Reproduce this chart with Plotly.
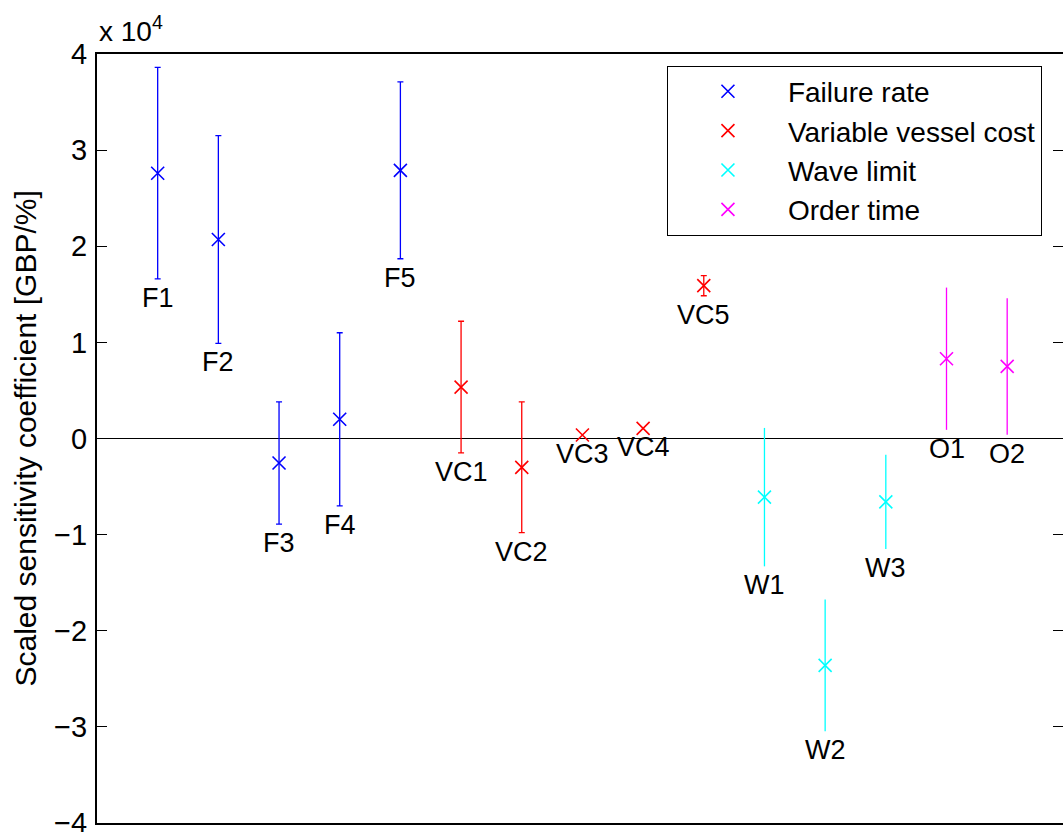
import plotly.graph_objects as go

# Scaled sensitivity coefficients [GBP/%] with their uncertainty half-widths
groups = ["Failure rate", "Variable vessel cost", "Wave limit", "Order time"]
colors = ["#0000FF", "#FF0000", "#00FFFF", "#FF00FF"]
cap_widths = [3, 3, 0, 0]

group_labels = [
    ["F1", "F2", "F3", "F4", "F5"],
    ["VC1", "VC2", "VC3", "VC4", "VC5"],
    ["W1", "W2", "W3"],
    ["O1", "O2"],
]
group_values = [
    [27600, 20700, -2550, 2000, 27900],
    [5350, -3000, 360, 1060, 15900],
    [-6100, -23600, -6600],
    [8300, 7500],
]
group_errors = [
    [11000, 10800, 6350, 9000, 9200],
    [6850, 6800, 0, 0, 1050],
    [7200, 6850, 4900],
    [7400, 7100],
]

y_ticks = [-40000, -30000, -20000, -10000, 0, 10000, 20000, 30000, 40000]
y_tick_text = ["\u22124", "\u22123", "\u22122", "\u22121", "0", "1", "2", "3", "4"]

FONT = "Liberation Sans, Arial, Helvetica, sans-serif"

fig = go.Figure()
annotations = []
pos = 1
for g, (name, color, capw) in enumerate(zip(groups, colors, cap_widths)):
    labs = group_labels[g]
    vals = group_values[g]
    errs = group_errors[g]
    xs = list(range(pos, pos + len(vals)))
    pos += len(vals)

    with_err = [i for i, e in enumerate(errs) if e > 0]
    no_err = [i for i, e in enumerate(errs) if e == 0]

    fig.add_trace(go.Scatter(
        x=[xs[i] for i in with_err], y=[vals[i] for i in with_err],
        mode="markers", name=name, legendgroup=name,
        marker=dict(symbol="x-thin", size=13, color=color,
                    line=dict(color=color, width=1.6)),
        error_y=dict(type="data", array=[errs[i] for i in with_err],
                     visible=True, color=color, thickness=1.3, width=capw),
    ))
    if no_err:
        fig.add_trace(go.Scatter(
            x=[xs[i] for i in no_err], y=[vals[i] for i in no_err],
            mode="markers", name=name, legendgroup=name, showlegend=False,
            marker=dict(symbol="x-thin", size=13, color=color,
                        line=dict(color=color, width=1.6)),
        ))

    # point labels sit just below the lower end of each error bar
    for x, v, e, t in zip(xs, vals, errs, labs):
        annotations.append(dict(
            x=x, y=v - e, xref="x", yref="y", text=t, showarrow=False,
            xanchor="center", yanchor="middle", yshift=-19,
            font=dict(family=FONT, size=27, color="black"),
        ))

# empty trace that carries the right-hand tick axis
fig.add_trace(go.Scatter(x=[None], y=[None], yaxis="y2", mode="markers",
                         showlegend=False, hoverinfo="skip"))

# exponent marker above the y axis
annotations.append(dict(
    x=0, y=1, xref="paper", yref="paper", text="x 10<sup>4</sup>",
    showarrow=False, xanchor="left", yanchor="bottom", yshift=5,
    font=dict(family=FONT, size=28, color="black"),
))
# y axis title
annotations.append(dict(
    x=-0.0745, y=0.5, xref="paper", yref="paper",
    text="Scaled sensitivity coefficient [GBP/%]", textangle=-90,
    showarrow=False, xanchor="center", yanchor="middle",
    font=dict(family=FONT, size=30, color="black"),
))

fig.update_layout(
    width=1063, height=832,
    margin=dict(l=97, r=0, t=54, b=9, autoexpand=False),
    paper_bgcolor="white", plot_bgcolor="white",
    font=dict(family=FONT, size=27, color="black"),
    showlegend=True,
    legend=dict(
        x=0.59, y=0.985, xanchor="left", yanchor="top",
        bordercolor="black", borderwidth=1, bgcolor="white",
        font=dict(family=FONT, size=28, color="black"),
        traceorder="grouped", tracegroupgap=0, itemwidth=110,
    ),
    xaxis=dict(
        range=[0, 15.92], showline=True, linecolor="black", linewidth=2,
        mirror=True, ticks="", showticklabels=False, showgrid=False,
        zeroline=False, automargin=False,
    ),
    yaxis=dict(
        range=[-40000, 40000], tickvals=y_ticks, ticktext=y_tick_text,
        ticks="inside", ticklen=10, tickwidth=1, tickcolor="black",
        showline=True, linecolor="black", linewidth=2, mirror=False,
        showgrid=False, zeroline=True, zerolinecolor="black",
        zerolinewidth=1.3, ticklabelstandoff=2, ticklabeloverflow="allow",
        automargin=False,
        tickfont=dict(family=FONT, size=29, color="black"),
    ),
    yaxis2=dict(
        overlaying="y", side="right", anchor="x",
        range=[-40000, 40000], tickvals=y_ticks, ticks="inside",
        ticklen=10, tickwidth=1, tickcolor="black", showline=False,
        showticklabels=False, showgrid=False, zeroline=False,
        automargin=False,
    ),
    annotations=annotations,
)

fig.write_html("out.html")
